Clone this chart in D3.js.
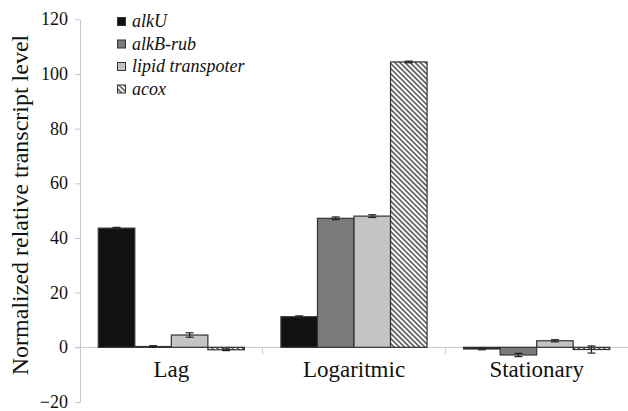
<!DOCTYPE html>
<html>
<head>
<meta charset="utf-8">
<script src="https://cdn.jsdelivr.net/npm/d3@7"></script>
<style>body { margin: 0; background: #fff; }</style>
</head>
<body>
<div id="chart"></div>
<script>
const categories = ['Lag', 'Logaritmic', 'Stationary'];
const seriesNames = ['alkU', 'alkB-rub', 'lipid transpoter', 'acox'];
// values per series, in category order
const alkU = [43.6, 11.2, -0.6];
const alkBrub = [0.3, 47.2, -2.8];
const lipidTransp = [4.5, 48.0, 2.4];
const acox = [-0.9, 104.4, -0.8];
// error (+/-)
const alkUErr = [0.3, 0.3, 0.3];
const alkBrubErr = [0.3, 0.5, 0.6];
const lipidTranspErr = [0.8, 0.5, 0.4];
const acoxErr = [0.3, 0.3, 1.3];
const yTicks = [-20, 0, 20, 40, 60, 80, 100, 120];

const seriesValues = [alkU, alkBrub, lipidTransp, acox];
const seriesErrors = [alkUErr, alkBrubErr, lipidTranspErr, acoxErr];
const fills = ['#111111', '#7b7b7b', '#c4c4c4', 'url(#hatch)'];

const width = 628, height = 411;
const margin = { left: 80, right: 0, top: 18, bottom: 8 };

const svg = d3.select('#chart').append('svg').attr('width', width).attr('height', height);

// every text goes through this so the serif face is applied directly
function setFont(sel, size, italic) {
  sel.style('font-family', '"Liberation Serif"')
    .attr('font-size', size)
    .attr('font-style', italic ? 'italic' : null)
    .attr('fill', '#111');
}

const defs = svg.append('defs');
const pat = defs.append('pattern')
  .attr('id', 'hatch')
  .attr('patternUnits', 'userSpaceOnUse')
  .attr('width', 3.6).attr('height', 3.6)
  .attr('patternTransform', 'rotate(-45)');
pat.append('rect').attr('width', 3.6).attr('height', 3.6).attr('fill', '#fff');
pat.append('line').attr('x1', 1).attr('y1', 0).attr('x2', 1).attr('y2', 3.6)
  .attr('stroke', '#4a4a4a').attr('stroke-width', 1.5);

const y = d3.scaleLinear().domain([-20, 120]).range([402, 19.3]);

const x = d3.scaleBand().domain(categories).range([margin.left, width]).padding(0);
const xs = d3.scaleBand().domain(seriesNames).range([0, x.bandwidth()])
  .paddingInner(0).paddingOuter(0.5);

// y title
const title = svg.append('text')
  .attr('transform', 'translate(28,205) rotate(-90)')
  .attr('text-anchor', 'middle')
  .text('Normalized relative transcript level');
setFont(title, 24);

// y axis
const yAxis = svg.append('g')
  .attr('transform', `translate(${margin.left},0)`)
  .call(d3.axisLeft(y).tickValues(yTicks).tickSize(5).tickSizeOuter(0).tickPadding(7));
yAxis.select('.domain').attr('stroke', '#c8c8c8');
yAxis.selectAll('.tick line').attr('stroke', '#c8c8c8');
setFont(yAxis.selectAll('.tick text').attr('dy', '0.3em'), 18);

// zero baseline with category separators
const xAxis = svg.append('g').attr('transform', `translate(0,${y(0)})`);
xAxis.append('line').attr('x1', margin.left - 5).attr('x2', width)
  .attr('stroke', '#c8c8c8').attr('stroke-width', 1);
const bounds = categories.map(c => x(c)).slice(1);
xAxis.selectAll('line.sep').data(bounds).enter().append('line')
  .attr('class', 'sep')
  .attr('x1', d => d).attr('x2', d => d).attr('y1', 0).attr('y2', 7)
  .attr('stroke', '#c8c8c8');
setFont(xAxis.selectAll('text.cat').data(categories).enter().append('text')
  .attr('class', 'cat')
  .attr('x', d => x(d) + x.bandwidth() / 2)
  .attr('y', 30)
  .attr('text-anchor', 'middle')
  .text(d => d), 23);

// bars
const barData = [];
seriesNames.forEach((s, si) => {
  categories.forEach((c, ci) => {
    barData.push({ s, si, c, v: seriesValues[si][ci], e: seriesErrors[si][ci] });
  });
});

svg.append('g').selectAll('rect').data(barData).enter().append('rect')
  .attr('x', d => x(d.c) + xs(d.s))
  .attr('y', d => y(Math.max(0, d.v)))
  .attr('width', xs.bandwidth())
  .attr('height', d => Math.abs(y(d.v) - y(0)))
  .attr('fill', d => fills[d.si])
  .attr('stroke', '#333')
  .attr('stroke-width', 1.2);

// error bars
const eb = svg.append('g').attr('stroke', '#222').attr('stroke-width', 1.2);
barData.forEach(d => {
  const cx = x(d.c) + xs(d.s) + xs.bandwidth() / 2;
  eb.append('line').attr('x1', cx).attr('x2', cx)
    .attr('y1', y(d.v + d.e)).attr('y2', y(d.v - d.e));
  [d.v + d.e, d.v - d.e].forEach(val => {
    eb.append('line').attr('x1', cx - 4).attr('x2', cx + 4)
      .attr('y1', y(val)).attr('y2', y(val));
  });
});

// legend
const legend = svg.append('g').attr('transform', 'translate(117,17)');
const items = legend.selectAll('g').data(seriesNames).enter().append('g')
  .attr('transform', (d, i) => `translate(0,${i * 22.5})`);
items.append('rect').attr('x', 0.5).attr('y', 0.5).attr('width', 8).attr('height', 8)
  .attr('fill', (d, i) => fills[i]).attr('stroke', '#333').attr('stroke-width', 1);
setFont(items.append('text').attr('x', 15).attr('y', 10).text(d => d), 18, true);
</script>
</body>
</html>
